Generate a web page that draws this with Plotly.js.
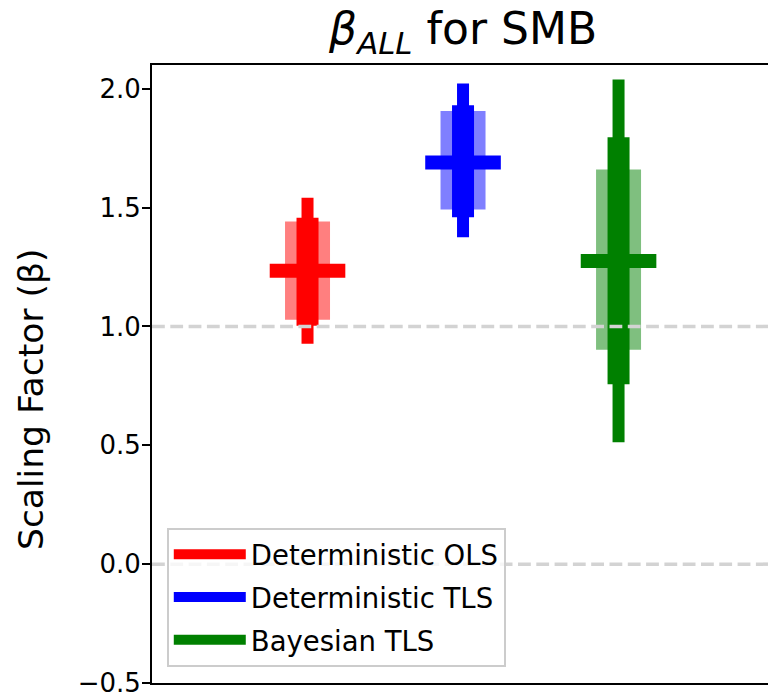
<!DOCTYPE html>
<html>
<head>
<meta charset="utf-8">
<script src="https://cdn.plot.ly/plotly-3.0.1.min.js"></script>
<style>html,body{margin:0;padding:0;background:#fff;}#chart{width:768px;height:696px;}</style>
</head>
<body>
<div id="chart"></div>
<script>
// ---- data ----
const methods = ['Deterministic OLS', 'Deterministic TLS', 'Bayesian TLS'];
const xpos = [0, 1, 2];
const colors = ['#ff0000', '#0000ff', '#008000'];
const lightColors = ['rgba(255,0,0,0.5)', 'rgba(0,0,255,0.5)', 'rgba(0,128,0,0.5)'];
const bestEstimate = [1.234, 1.690, 1.275];
const outerLow  = [0.927, 1.375, 0.513];
const outerHigh = [1.541, 2.022, 2.039];
const innerLow  = [1.003, 1.459, 0.757];
const innerHigh = [1.457, 1.931, 1.796];
const altLow    = [1.028, 1.492, 0.902];
const altHigh   = [1.442, 1.906, 1.660];
const refLevels = [1.0, 0.0];
const yTicks = [-0.5, 0.0, 0.5, 1.0, 1.5, 2.0];
const yTickText = ['\u22120.5', '0.0', '0.5', '1.0', '1.5', '2.0'];
const yLabel = 'Scaling Factor (β)';
const titleText = '<i>β</i><sub><i>ALL</i></sub> for SMB';

const FONT = 'DejaVu Sans, Liberation Sans, sans-serif';
const traces = [];

methods.forEach((m, i) => {
  traces.push({
    type: 'scatter', mode: 'lines', x: [xpos[i], xpos[i]], y: [altLow[i], altHigh[i]],
    line: {color: lightColors[i], width: 45}, showlegend: false, hoverinfo: 'skip', legendgroup: m
  });
});
methods.forEach((m, i) => {
  traces.push({
    type: 'scatter', mode: 'lines', x: [xpos[i], xpos[i]], y: [innerLow[i], innerHigh[i]],
    line: {color: colors[i], width: 22}, showlegend: false, hoverinfo: 'skip', legendgroup: m
  });
  traces.push({
    type: 'scatter', mode: 'lines', x: [xpos[i], xpos[i]], y: [outerLow[i], outerHigh[i]],
    line: {color: colors[i], width: 12}, name: m, showlegend: true, legendgroup: m
  });
});
refLevels.forEach(v => {
  traces.push({
    type: 'scatter', mode: 'lines', x: [-1, 2.961], y: [v, v],
    line: {color: '#d3d3d3', width: 3.5, dash: '12.8px,5.5px'}, showlegend: false, hoverinfo: 'skip'
  });
});
methods.forEach((m, i) => {
  traces.push({
    type: 'scatter', mode: 'markers', x: [xpos[i]], y: [bestEstimate[i]],
    marker: {symbol: 'line-ew', size: 54, color: colors[i], line: {color: colors[i], width: 14}},
    showlegend: false, legendgroup: m
  });
});

const layout = {
  width: 768, height: 696,
  margin: {l: 152, r: 0, t: 65, b: 13},
  paper_bgcolor: '#ffffff', plot_bgcolor: '#ffffff',
  font: {family: FONT, color: '#000000', size: 25},
  title: {
    text: titleText,
    font: {family: FONT, size: 44, color: '#000000'},
    x: 0.505, xref: 'paper', xanchor: 'center',
    y: 1 - 29 / 696, yref: 'container', yanchor: 'middle'
  },
  xaxis: {
    range: [-1, 2.961], showgrid: false, zeroline: false,
    showticklabels: false, ticks: '',
    showline: true, mirror: true, linecolor: '#000000', linewidth: 2
  },
  yaxis: {
    range: [-0.5, 2.1], showgrid: false, zeroline: false,
    tickvals: yTicks, ticktext: yTickText, ticklabeloverflow: 'allow',
    ticks: 'outside', ticklen: 8, tickwidth: 2, tickcolor: '#000000',
    ticklabelstandoff: -4,
    tickfont: {family: FONT, size: 26, color: '#000000'},
    showline: true, linecolor: '#000000', linewidth: 2
  },
  annotations: [{
    text: yLabel, textangle: -90,
    xref: 'paper', x: 0, xanchor: 'center', xshift: -121,
    yref: 'paper', y: (683 - 400) / 618, yanchor: 'middle',
    showarrow: false,
    font: {family: FONT, size: 34.5, color: '#000000'}
  }],
  legend: {
    x: 0.024, xanchor: 'left', y: 0.026, yanchor: 'bottom',
    bgcolor: 'rgba(255,255,255,0.8)', bordercolor: '#cccccc', borderwidth: 2,
    font: {family: FONT, size: 27.5, color: '#000000'},
    itemwidth: 72, tracegroupgap: 4, traceorder: 'grouped'
  },
  showlegend: true
};

Plotly.newPlot('chart', traces, layout, {displayModeBar: false, staticPlot: true});
</script>
</body>
</html>
